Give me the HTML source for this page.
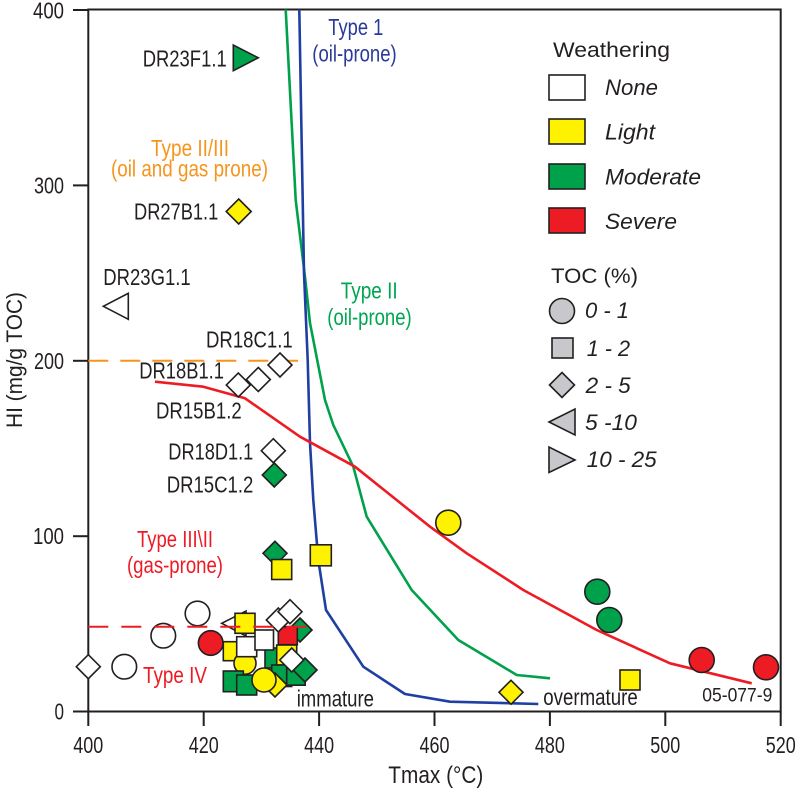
<!DOCTYPE html>
<html>
<head>
<meta charset="utf-8">
<style>
  html,body{margin:0;padding:0;background:#fff;}
  svg{display:block;}
  text{font-family:"Liberation Sans Narrow","Liberation Sans",sans-serif;fill:#231f20;}
</style>
</head>
<body>
<svg width="800" height="789" viewBox="0 0 800 789" xmlns="http://www.w3.org/2000/svg">
  <rect x="0" y="0" width="800" height="789" fill="#fff"/>

  <!-- frame -->
  <rect x="88.3" y="9.5" width="692.4" height="702" fill="none" stroke="#231f20" stroke-width="2"/>

  <!-- y ticks -->
  <g stroke="#231f20" stroke-width="2">
    <line x1="73" y1="711.5" x2="88.3" y2="711.5"/>
    <line x1="73" y1="536.2" x2="88.3" y2="536.2"/>
    <line x1="73" y1="360.8" x2="88.3" y2="360.8"/>
    <line x1="73" y1="185.4" x2="88.3" y2="185.4"/>
    <line x1="73" y1="10" x2="88.3" y2="10"/>
  </g>
  <g font-size="23" text-anchor="end">
    <text x="64" y="719.5" textLength="9.5" lengthAdjust="spacingAndGlyphs">0</text>
    <text x="64" y="544" textLength="31" lengthAdjust="spacingAndGlyphs">100</text>
    <text x="64" y="369" textLength="30" lengthAdjust="spacingAndGlyphs">200</text>
    <text x="64" y="193.5" textLength="30" lengthAdjust="spacingAndGlyphs">300</text>
    <text x="64" y="18.5" textLength="31" lengthAdjust="spacingAndGlyphs">400</text>
  </g>

  <!-- x ticks -->
  <g stroke="#231f20" stroke-width="2">
    <line x1="88.3" y1="711.5" x2="88.3" y2="726"/>
    <line x1="203.7" y1="711.5" x2="203.7" y2="726"/>
    <line x1="319.1" y1="711.5" x2="319.1" y2="726"/>
    <line x1="434.5" y1="711.5" x2="434.5" y2="726"/>
    <line x1="549.9" y1="711.5" x2="549.9" y2="726"/>
    <line x1="665.3" y1="711.5" x2="665.3" y2="726"/>
    <line x1="780.7" y1="711.5" x2="780.7" y2="726"/>
  </g>
  <g font-size="23" text-anchor="middle">
    <text x="88.3" y="753" textLength="30" lengthAdjust="spacingAndGlyphs">400</text>
    <text x="203.7" y="753" textLength="30" lengthAdjust="spacingAndGlyphs">420</text>
    <text x="319.1" y="753" textLength="30" lengthAdjust="spacingAndGlyphs">440</text>
    <text x="434.5" y="753" textLength="30" lengthAdjust="spacingAndGlyphs">460</text>
    <text x="549.9" y="753" textLength="30" lengthAdjust="spacingAndGlyphs">480</text>
    <text x="665.3" y="753" textLength="30" lengthAdjust="spacingAndGlyphs">500</text>
    <text x="780.7" y="753" textLength="30" lengthAdjust="spacingAndGlyphs">520</text>
  </g>

  <!-- axis titles -->
  <text x="388.3" y="783" font-size="24" textLength="95" lengthAdjust="spacingAndGlyphs">Tmax (°C)</text>
  <text transform="translate(22,360) rotate(-90)" font-size="22" text-anchor="middle" textLength="136" lengthAdjust="spacingAndGlyphs">HI (mg/g TOC)</text>

  <!-- curves -->
  <polyline fill="none" stroke="#00a14b" stroke-width="2.6" stroke-linejoin="round"
    points="285.7,9.5 295.7,200 305,277 310,323 325,400 333.3,425 353.3,466.7 366.7,516.7 411.7,590 458.3,640 516.7,675 550,678.3"/>
  <polyline fill="none" stroke="#1f3fa3" stroke-width="2.6" stroke-linejoin="round"
    points="299.3,9.5 304,273 307.7,360 310,443 313.3,500 318.3,560 326,610 363.3,666.7 405,694 450,701.7 538.3,704"/>
  <polyline fill="none" stroke="#ed1c24" stroke-width="2.6" stroke-linejoin="round"
    points="155,381.7 203.3,386.7 245,398.3 300,436.7 355,466.7 430,526.7 466.7,553.3 523.3,590 596.7,630 670,663.3 751.7,683.3"/>

  <!-- orange dashed -->
  <line x1="88.3" y1="360.8" x2="298" y2="360.8" stroke="#f7941d" stroke-width="2" stroke-dasharray="20 12"/>

  <!-- labels: types -->
  <text x="151" y="156" font-size="23" style="fill:#f7941d" textLength="78" lengthAdjust="spacingAndGlyphs">Type II/III</text>
  <text x="111" y="176.5" font-size="23" style="fill:#f7941d" textLength="157" lengthAdjust="spacingAndGlyphs">(oil and gas prone)</text>
  <text x="328.3" y="35" font-size="23" style="fill:#2b3a9a" textLength="55" lengthAdjust="spacingAndGlyphs">Type 1</text>
  <text x="312.3" y="61.7" font-size="23" style="fill:#2b3a9a" textLength="84.4" lengthAdjust="spacingAndGlyphs">(oil-prone)</text>
  <text x="340.7" y="298.3" font-size="23" style="fill:#00a651" textLength="57" lengthAdjust="spacingAndGlyphs">Type II</text>
  <text x="327.3" y="325" font-size="23" style="fill:#00a651" textLength="84.4" lengthAdjust="spacingAndGlyphs">(oil-prone)</text>
  <text x="137" y="547" font-size="23" style="fill:#ed1c24" textLength="76" lengthAdjust="spacingAndGlyphs">Type III\II</text>
  <text x="127" y="573" font-size="23" style="fill:#ed1c24" textLength="96" lengthAdjust="spacingAndGlyphs">(gas-prone)</text>
  <text x="143" y="683" font-size="23" style="fill:#ed1c24" textLength="64" lengthAdjust="spacingAndGlyphs">Type IV</text>

  <!-- sample labels -->
  <g font-size="23">
    <text x="142.7" y="66.7" textLength="84" lengthAdjust="spacingAndGlyphs">DR23F1.1</text>
    <text x="134" y="219.3" textLength="84.3" lengthAdjust="spacingAndGlyphs">DR27B1.1</text>
    <text x="103.3" y="285" textLength="87.4" lengthAdjust="spacingAndGlyphs">DR23G1.1</text>
    <text x="206" y="347.7" textLength="86.7" lengthAdjust="spacingAndGlyphs">DR18C1.1</text>
    <text x="139.3" y="378.3" textLength="84.7" lengthAdjust="spacingAndGlyphs">DR18B1.1</text>
    <text x="156" y="418.3" textLength="85.7" lengthAdjust="spacingAndGlyphs">DR15B1.2</text>
    <text x="168.3" y="459.3" textLength="85" lengthAdjust="spacingAndGlyphs">DR18D1.1</text>
    <text x="166.7" y="492.7" textLength="86.6" lengthAdjust="spacingAndGlyphs">DR15C1.2</text>
    <text x="296.7" y="706.7" textLength="77.3" lengthAdjust="spacingAndGlyphs">immature</text>
    <text x="543.3" y="705" textLength="94.4" lengthAdjust="spacingAndGlyphs">overmature</text>
  </g>
  <text x="702.3" y="701.7" font-size="19" textLength="70" lengthAdjust="spacingAndGlyphs">05-077-9</text>

  <!-- markers -->
  <g stroke="#231f20" stroke-width="1.6" stroke-linejoin="miter">
    <!-- upper -->
    <polygon points="233.3,45 233.3,70.7 258.3,57.8" fill="#00a14b"/>
    <polygon points="238.7,199 251.2,211.5 238.7,224 226.2,211.5" fill="#fff200"/>
    <polygon points="103.3,306.3 128.3,293.3 128.3,319.3" fill="#fff"/>
    <polygon points="280,353 292,365 280,377 268,365" fill="#fff"/>
    <polygon points="258.3,367.5 270.3,379.5 258.3,391.5 246.3,379.5" fill="#fff"/>
    <polygon points="238.3,373 250.3,385 238.3,397 226.3,385" fill="#fff"/>
    <polygon points="273.3,438.7 285.3,450.7 273.3,462.7 261.3,450.7" fill="#fff"/>
    <polygon points="274.3,463 286.3,475 274.3,487 262.3,475" fill="#00a14b"/>
    <polygon points="275,541.3 287,553.3 275,565.3 263,553.3" fill="#00a14b"/>
    <rect x="271.7" y="559.5" width="20" height="20" fill="#fff200"/>
    <rect x="310.3" y="544.8" width="21" height="21" fill="#fff200"/>
    <circle cx="448.3" cy="522.7" r="12.5" fill="#fff200"/>
    <circle cx="597.3" cy="591.7" r="12.5" fill="#00a14b"/>
    <circle cx="609.3" cy="620" r="12.5" fill="#00a14b"/>
    <circle cx="701.7" cy="660" r="12.5" fill="#ed1c24"/>
    <circle cx="766" cy="667.3" r="12.5" fill="#ed1c24"/>
    <rect x="620" y="670" width="20" height="20" fill="#fff200"/>
    <polygon points="511,680.3 523,692.3 511,704.3 499,692.3" fill="#fff200"/>

    <!-- lower left -->
    <polygon points="88.3,654.7 100.3,666.7 88.3,678.7 76.3,666.7" fill="#fff"/>
    <circle cx="124.3" cy="666.7" r="12.3" fill="#fff"/>
    <circle cx="163.3" cy="635.7" r="12.3" fill="#fff"/>
    <circle cx="197.5" cy="613.5" r="12.3" fill="#fff"/>
    <circle cx="210.7" cy="643" r="12.3" fill="#ed1c24"/>

    <!-- cluster -->
    <polygon points="221.7,623.3 246,611 246,636" fill="#fff"/>
    <rect x="235" y="613.3" width="20" height="20" fill="#fff200"/>
    <polygon points="300,618 312,630 300,642 288,630" fill="#00a14b"/>
    <rect x="265" y="648" width="20" height="20" fill="#00a14b"/>
    <rect x="278.3" y="626.7" width="19" height="18" fill="#ed1c24"/>
    <polygon points="278.3,608 290.3,620 278.3,632 266.3,620" fill="#fff"/>
    <polygon points="290,599.7 302,611.7 290,623.7 278,611.7" fill="#fff"/>
    <rect x="223.3" y="641.7" width="20" height="19" fill="#fff200"/>
    <circle cx="245" cy="663.3" r="11" fill="#fff200"/>
    <rect x="236.7" y="636.7" width="20" height="20" fill="#fff"/>
    <rect x="255" y="630" width="18.5" height="20" fill="#fff"/>
    <rect x="276.7" y="645" width="20" height="20" fill="#fff200"/>
    <rect x="271.7" y="665" width="20" height="21.5" fill="#00a14b"/>
    <rect x="286.7" y="666.7" width="18.5" height="18.5" fill="#00a14b"/>
    <polygon points="305,658 317,670 305,682 293,670" fill="#00a14b"/>
    <polygon points="291.7,648 303.7,660 291.7,672 279.7,660" fill="#fff"/>
    <polygon points="275,673 287,685 275,697 263,685" fill="#fff200"/>
    <rect x="223.3" y="671" width="20" height="20.7" fill="#00a14b"/>
    <rect x="236.7" y="675" width="20" height="20" fill="#00a14b"/>
    <circle cx="264" cy="680" r="12" fill="#fff200"/>
  </g>

  <!-- red dashed line (on top) -->
  <line x1="88.3" y1="626.7" x2="313" y2="626.7" stroke="#ed1c24" stroke-width="2" stroke-dasharray="20 13"/>

  <!-- legend -->
  <text x="553" y="57" font-size="21" textLength="117" lengthAdjust="spacingAndGlyphs">Weathering</text>
  <g stroke="#231f20" stroke-width="1.6">
    <rect x="549" y="75" width="36" height="25" fill="#fff"/>
    <rect x="549" y="119" width="36" height="25" fill="#fff200"/>
    <rect x="549" y="164" width="36" height="25" fill="#00a14b"/>
    <rect x="549" y="208" width="36" height="25" fill="#ed1c24"/>
  </g>
  <g font-size="22" font-style="italic">
    <text x="605" y="95" textLength="53" lengthAdjust="spacingAndGlyphs">None</text>
    <text x="605" y="139.5" textLength="50" lengthAdjust="spacingAndGlyphs">Light</text>
    <text x="605" y="184.5" textLength="96" lengthAdjust="spacingAndGlyphs">Moderate</text>
    <text x="605" y="229" textLength="72" lengthAdjust="spacingAndGlyphs">Severe</text>
  </g>
  <text x="551" y="283" font-size="21" textLength="87" lengthAdjust="spacingAndGlyphs">TOC (%)</text>
  <g stroke="#231f20" stroke-width="1.6" fill="#c8c8cc">
    <circle cx="562" cy="311" r="12.5"/>
    <rect x="552" y="338" width="21" height="20"/>
    <polygon points="562,372.5 574.5,385 562,397.5 549.5,385"/>
    <polygon points="549,422 575,409 575,435"/>
    <polygon points="549,447 549,472.5 575,460"/>
  </g>
  <g font-size="22" font-style="italic">
    <text x="585" y="318" textLength="44" lengthAdjust="spacingAndGlyphs">0 - 1</text>
    <text x="586.7" y="356" textLength="43.3" lengthAdjust="spacingAndGlyphs">1 - 2</text>
    <text x="585.7" y="393" textLength="45" lengthAdjust="spacingAndGlyphs">2 - 5</text>
    <text x="585" y="430" textLength="52" lengthAdjust="spacingAndGlyphs">5 -10</text>
    <text x="586.7" y="467" textLength="70" lengthAdjust="spacingAndGlyphs">10 - 25</text>
  </g>
</svg>
</body>
</html>
